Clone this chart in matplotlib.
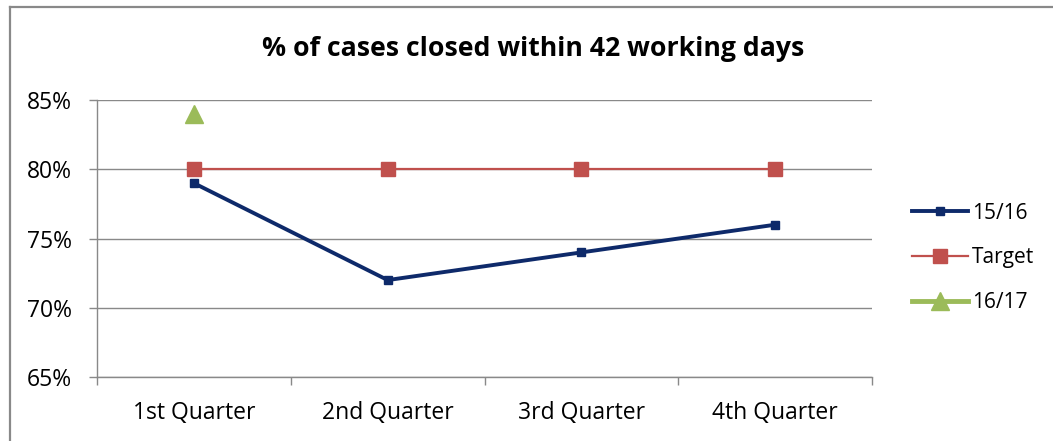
import matplotlib
matplotlib.use("Agg")
import matplotlib.pyplot as plt
from matplotlib.lines import Line2D

plt.rcParams['font.family'] = ['Open Sans', 'DejaVu Sans']

# data
quarters = ['1st Quarter', '2nd Quarter', '3rd Quarter', '4th Quarter']
s1516 = [79, 72, 74, 76]
target = [80, 80, 80, 80]
s1617 = [84]
yticks = [65, 70, 75, 80, 85]

navy = '#0E2A6A'
red = '#C0504D'
green = '#9BBB59'
grey = '#898989'

fig = plt.figure(figsize=(10.53, 4.41), dpi=100)
ax = fig.add_axes([0.0921, 0.1451, 0.7362, 0.628])

x = list(range(len(quarters)))
ax.plot(x, s1516, color=navy, lw=2.8, marker='s', ms=6, label='15/16', zorder=4)
ax.plot(x, target, color=red, lw=1.6, marker='s', ms=10, label='Target', zorder=3)
ax.plot(x[:len(s1617)], s1617, color=green, lw=3.5, marker='^', ms=13, label='16/17', zorder=5)

ax.set_xlim(-0.5, len(quarters) - 0.5)
ax.set_ylim(yticks[0], yticks[-1])
ax.set_yticks(yticks)
ax.set_yticklabels([f'{v}%' for v in yticks], fontsize=16.5)
# boundary ticks between categories, labels centred on categories
ax.set_xticks([i + 0.5 for i in range(-1, len(quarters))])
ax.set_xticklabels([])
ax.set_xticks(x, minor=True)
ax.set_xticklabels(quarters, minor=True, fontsize=16.5)
ax.tick_params(axis='x', which='major', length=6, color=grey, width=1)
ax.tick_params(axis='x', which='minor', length=0, pad=17)
ax.tick_params(axis='y', length=6, color=grey, width=1, pad=12)
ax.yaxis.grid(True, color=grey, lw=1)
ax.set_axisbelow(True)
for side in ('top', 'right'):
    ax.spines[side].set_visible(False)
for side in ('left', 'bottom'):
    ax.spines[side].set_color(grey)
    ax.spines[side].set_linewidth(1)

fig.text(0.506, 0.888, '% of cases closed within 42 working days', ha='center', va='center',
         fontsize=19.2, fontweight='bold')

fig.legend(loc='center', bbox_to_anchor=(0.924, 0.415), frameon=False, fontsize=15,
           handlelength=2.7, labelspacing=1.15, handletextpad=0.2)

# chart-area border (left and top edges only visible)
fig.add_artist(Line2D([0.0095, 0.0095], [0, 0.984], color=grey, lw=1.6))
fig.add_artist(Line2D([0.0095, 1], [0.984, 0.984], color=grey, lw=1.6))

fig.savefig('out.png', dpi=100)
